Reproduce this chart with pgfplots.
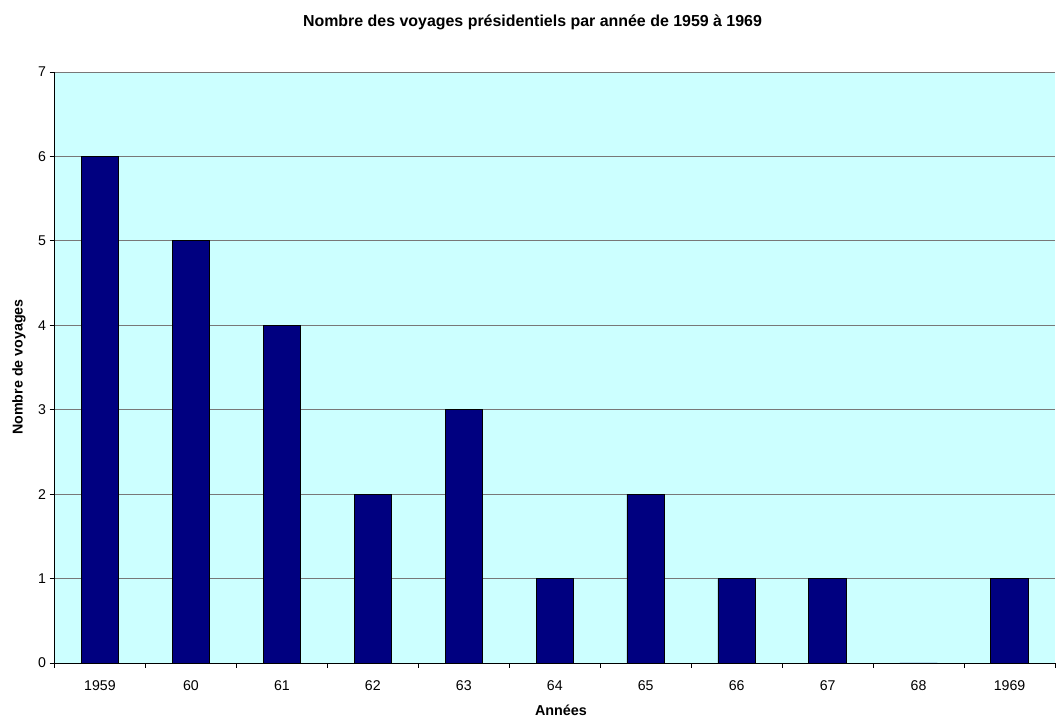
\documentclass[border=0pt]{standalone}
\usepackage{pgfplots}
\pgfplotsset{compat=1.18}
\usepackage{fontspec}
\setmainfont{Liberation Sans}
\definecolor{bgcyan}{RGB}{204,255,255}
\definecolor{barnavy}{RGB}{0,0,128}
\definecolor{gridgray}{RGB}{120,120,120}
\begin{document}
\begin{tikzpicture}[x=1bp,y=1bp]
\path[use as bounding box] (0,0) rectangle (1056,717);
\begin{axis}[
  at={(54.5bp,54bp)}, anchor=south west,
  scale only axis, width=1000.5bp, height=591bp,
  xmin=-0.5, xmax=10.5, ymin=0, ymax=7,
  axis background/.style={fill=bgcyan},
  axis x line*=bottom, axis y line*=left,
  axis line style={-, black, line width=0.9pt},
  xtick={0,...,10},
  xticklabels={1959,60,61,62,63,64,65,66,67,68,1969},
  minor xtick={-0.5,0.5,...,10.5},
  ytick={0,...,7},
  ymajorgrids, grid style={gridgray, line width=0.9pt},
  major grid style={gridgray, line width=0.9pt},
  tick align=outside,
  x tick style={draw=none},
  minor x tick style={draw=black, line width=0.8pt},
  y tick style={black, line width=0.8pt},
  major tick length=5bp, minor tick length=5bp,
  tick label style={font=\fontsize{14.2}{16}\selectfont},
  /pgf/number format/assume math mode=true,
  xticklabel style={anchor=base, yshift=-22.5bp},
  yticklabel style={anchor=east, xshift=0bp},
  ybar, bar width=37.5bp,
  clip=false,
]
\addplot[fill=barnavy, draw=black, line width=0.8pt] coordinates {
(0,6) (1,5) (2,4) (3,2) (4,3) (5,1) (6,2) (7,1) (8,1) (9,0) (10,1)};
\end{axis}
\node[font=\fontsize{16}{18}\selectfont\bfseries, anchor=base] at (532.5,690.5) {Nombre des voyages présidentiels par année de 1959 à 1969};
\node[font=\fontsize{14.4}{16}\selectfont\bfseries, anchor=base] at (561,1) {Années};
\node[font=\fontsize{14.3}{16}\selectfont\bfseries, rotate=90, anchor=base] at (22.5,350) {Nombre de voyages};
\end{tikzpicture}
\end{document}
